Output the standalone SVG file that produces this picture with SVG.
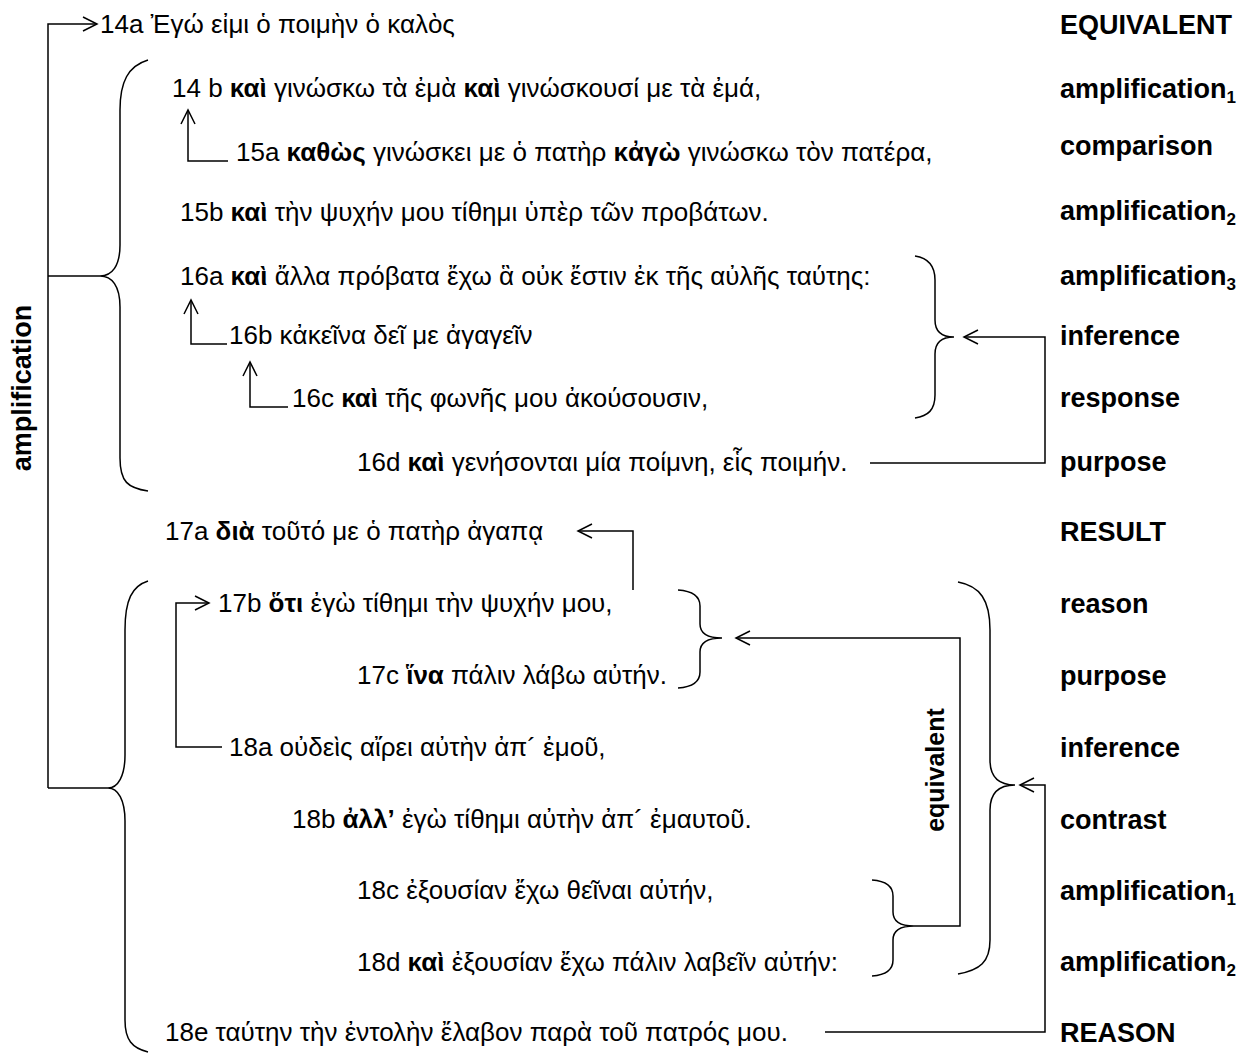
<svg xmlns="http://www.w3.org/2000/svg" width="1248" height="1057" viewBox="0 0 1248 1057">
<style>
text{font-family:"Liberation Sans",Arial,sans-serif;font-size:26px;fill:#000}
.b{font-weight:bold}
.lab{font-weight:bold;font-size:27px}
.sub{font-size:17px}
.ln{fill:none;stroke:#000;stroke-width:1.5}
</style>
<defs>
<marker id="ah" markerUnits="userSpaceOnUse" markerWidth="18" markerHeight="18" viewBox="0 0 18 18" refX="16" refY="9" orient="auto">
<path d="M2,2 L16,9 L2,16" fill="none" stroke="#000" stroke-width="1.5"/>
</marker>
</defs>
<rect width="1248" height="1057" fill="#fff"/>

<g id="connectors">
<path class="ln" d="M48,788 L48,24 L97,24" marker-end="url(#ah)"/>
<path class="ln" d="M48,276 L100,276"/>
<path class="ln" d="M48,788 L108,788"/>
<path class="ln" d="M228,161 L188,161 L188,110" marker-end="url(#ah)"/>
<path class="ln" d="M227,344 L191,344 L191,300" marker-end="url(#ah)"/>
<path class="ln" d="M288,407 L250,407 L250,362" marker-end="url(#ah)"/>
<path class="ln" d="M870,463 L1045,463 L1045,337 L964,337" marker-end="url(#ah)"/>
<path class="ln" d="M633,590 L633,531 L578,531" marker-end="url(#ah)"/>
<path class="ln" d="M222,747 L176,747 L176,603 L209,603" marker-end="url(#ah)"/>
<path class="ln" d="M914,926 L960,926 L960,638 L736,638" marker-end="url(#ah)"/>
<path class="ln" d="M825,1032 L1045,1032 L1045,785 L1020,785" marker-end="url(#ah)"/>
</g>

<g id="braces">
<path id="brace-upper" class="ln" d="M148,60 C128,66 120,82 120,110 L120,245 C120,266 112,276 100,276 C112,276 120,286 120,307 L120,458 C120,482 128,488 148,491"/>
<path id="brace-lower" class="ln" d="M148,581 C132,586 125,600 125,630 L125,755 C125,776 118,788 108,788 C118,788 125,800 125,821 L125,1020 C125,1040 132,1048 148,1052"/>
<path id="brace-16" class="ln" d="M915,256 C928,258 935,265 935,280 L935,320 C935,332 942,337 954,337 C942,337 935,342 935,354 L935,395 C935,410 928,416 915,418"/>
<path id="brace-17" class="ln" d="M678,590 C692,591 700,596 700,606 L700,624 C700,634 708,638 722,638 C708,638 700,642 700,652 L700,672 C700,682 692,687 678,688"/>
<path id="brace-18cd" class="ln" d="M872,880 C886,881 893,886 893,896 L893,912 C893,922 900,926 914,926 C900,926 893,930 893,940 L893,960 C893,970 886,975 872,976"/>
<path id="brace-big" class="ln" d="M958,582 C980,586 990,600 990,630 L990,760 C990,778 1000,785 1015,785 C1000,785 990,792 990,810 L990,940 C990,962 980,970 958,974"/>
</g>

<g id="n14a"><text x="100" y="33">14a Ἐγώ εἰμι ὁ ποιμὴν ὁ καλὸς</text></g>
<g id="n14b"><text x="172" y="97">14 b <tspan class="b">καὶ</tspan> γινώσκω τὰ ἐμὰ <tspan class="b">καὶ</tspan> γινώσκουσί με τὰ ἐμά,</text></g>
<g id="n15a"><text x="236" y="161">15a <tspan class="b">καθὼς</tspan> γινώσκει με ὁ πατὴρ <tspan class="b">κἀγὼ</tspan> γινώσκω τὸν πατέρα,</text></g>
<g id="n15b"><text x="180" y="221">15b <tspan class="b">καὶ</tspan> τὴν ψυχήν μου τίθημι ὑπὲρ τῶν προβάτων.</text></g>
<g id="n16a"><text x="180" y="285">16a <tspan class="b">καὶ</tspan> ἄλλα πρόβατα ἔχω ἃ οὐκ ἔστιν ἐκ τῆς αὐλῆς ταύτης:</text></g>
<g id="n16b"><text x="229" y="344">16b κἀκεῖνα δεῖ με ἀγαγεῖν</text></g>
<g id="n16c"><text x="292" y="407">16c <tspan class="b">καὶ</tspan> τῆς φωνῆς μου ἀκούσουσιν,</text></g>
<g id="n16d"><text x="357" y="471">16d <tspan class="b">καὶ</tspan> γενήσονται μία ποίμνη, εἷς ποιμήν.</text></g>
<g id="n17a"><text x="165" y="540">17a <tspan class="b">διὰ</tspan> τοῦτό με ὁ πατὴρ ἀγαπᾳ</text></g>
<g id="n17b"><text x="218" y="612">17b <tspan class="b">ὅτι</tspan> ἐγὼ τίθημι τὴν ψυχήν μου,</text></g>
<g id="n17c"><text x="357" y="684">17c <tspan class="b">ἵνα</tspan> πάλιν λάβω αὐτήν.</text></g>
<g id="n18a"><text x="229" y="756">18a οὐδεὶς αἴρει αὐτὴν ἀπ´ ἐμοῦ,</text></g>
<g id="n18b"><text x="292" y="828">18b <tspan class="b">ἀλλ’</tspan> ἐγὼ τίθημι αὐτὴν ἀπ´ ἐμαυτοῦ.</text></g>
<g id="n18c"><text x="357" y="899">18c ἐξουσίαν ἔχω θεῖναι αὐτήν,</text></g>
<g id="n18d"><text x="357" y="971">18d <tspan class="b">καὶ</tspan> ἐξουσίαν ἔχω πάλιν λαβεῖν αὐτήν:</text></g>
<g id="n18e"><text x="165" y="1041">18e ταύτην τὴν ἐντολὴν ἔλαβον παρὰ τοῦ πατρός μου.</text></g>

<g id="labels">
<text class="lab" x="1060" y="34">EQUIVALENT</text>
<text class="lab" x="1060" y="98">amplification<tspan class="sub" dy="5">1</tspan></text>
<text class="lab" x="1060" y="155">comparison</text>
<text class="lab" x="1060" y="220">amplification<tspan class="sub" dy="5">2</tspan></text>
<text class="lab" x="1060" y="285">amplification<tspan class="sub" dy="5">3</tspan></text>
<text class="lab" x="1060" y="345">inference</text>
<text class="lab" x="1060" y="407">response</text>
<text class="lab" x="1060" y="471">purpose</text>
<text class="lab" x="1060" y="541">RESULT</text>
<text class="lab" x="1060" y="613">reason</text>
<text class="lab" x="1060" y="685">purpose</text>
<text class="lab" x="1060" y="757">inference</text>
<text class="lab" x="1060" y="829">contrast</text>
<text class="lab" x="1060" y="900">amplification<tspan class="sub" dy="5">1</tspan></text>
<text class="lab" x="1060" y="971">amplification<tspan class="sub" dy="5">2</tspan></text>
<text class="lab" x="1060" y="1042">REASON</text>
<text class="lab" transform="translate(31,388) rotate(-90)" text-anchor="middle">amplification</text>
<text class="lab" style="font-size:25px" transform="translate(944,770) rotate(-90)" text-anchor="middle">equivalent</text>
</g>
</svg>
